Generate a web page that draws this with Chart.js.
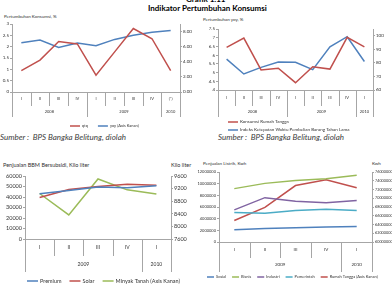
<!DOCTYPE html>
<html>
<head>
<meta charset="utf-8">
<script src="https://cdn.jsdelivr.net/npm/chart.js@4.4.1/dist/chart.umd.min.js"></script>
<style>
  body { margin: 0; width: 392px; height: 291px; background: #fff; position: relative; overflow: hidden; font-family: Lato, sans-serif; }
  canvas { position: absolute; }
  .t { position: absolute; white-space: nowrap; color: #333; line-height: 1; }
</style>
</head>
<body>
<div class="t" style="left:186px;top:-5px;font-size:8px;font-weight:bold;color:#000">Grafik 1.11</div>
<div class="t" style="left:148px;top:4px;font-size:8px;font-weight:bold;color:#000">Indikator Pertumbuhan Konsumsi</div>
<div class="t" style="left:4px;top:15px;font-size:4.5px">Pertumbuhan Konsumsi, %</div>
<div class="t" style="left:203px;top:18px;font-size:4.5px">Pertumbuhan yoy, %</div>
<div class="t" style="left:0px;top:133px;font-size:8px;font-style:italic;color:#404040">Sumber :&nbsp; BPS Bangka Belitung, diolah</div>
<div class="t" style="left:218px;top:133px;font-size:8px;font-style:italic;color:#404040">Sumber :&nbsp; BPS Bangka Belitung, diolah</div>
<div class="t" style="left:3px;top:163px;font-size:5.5px">Penjualan BBM Bersubsidi, Kilo liter</div>
<div class="t" style="left:171px;top:163px;font-size:5.5px">Kilo liter</div>
<div class="t" style="left:203px;top:162px;font-size:4.5px">Penjualan Listrik, Kwh</div>
<div class="t" style="left:372px;top:162px;font-size:4.5px">Kwh</div>

<canvas id="konsumsi" width="196" height="130" style="left:0;top:14px"></canvas>
<canvas id="yoy" width="196" height="130" style="left:196px;top:14px"></canvas>
<canvas id="bbm" width="195" height="131" style="left:0;top:160px"></canvas>
<canvas id="listrik" width="197" height="131" style="left:195px;top:160px"></canvas>

<script>
// kiri atas: pertumbuhan konsumsi
var kuartal1 = ['I', 'II', 'III', 'IV', 'I', 'II', 'III', 'IV', '(*)'];
var tahun1 = ['2008', '2009', '2010'];
var rentang1 = [4, 4, 1];
var qtq = [0.94, 1.41, 2.23, 2.12, 0.74, 1.77, 2.8, 2.35, 0.94];
var yoyKonsumsi = [6.52, 6.87, 5.9, 6.48, 6.13, 6.96, 7.5, 7.9, 8.13];

// kanan atas: konsumsi RT vs indeks ketepatan waktu
var kuartal2 = ['I', 'II', 'III', 'IV', 'I', 'II', 'III', 'IV', 'I'];
var konsumsiRT = [6.45, 6.98, 5.15, 5.25, 4.42, 5.33, 5.2, 7.02, 6.47];
var indeksKetepatan = [82.8, 71.8, 76.7, 80.6, 80.4, 75, 91.8, 99.3, 81];

// kiri bawah: penjualan BBM
var kuartal3 = ['I', 'II', 'III', 'IV', 'I'];
var tahun3 = ['2009', '2010'];
var rentang3 = [4, 1];
var premium = [43000, 46200, 49600, 48800, 50700];
var solar = [39600, 47100, 50000, 52200, 51200];
var minyakTanah = [9045, 8365, 9505, 9160, 9025];

// kanan bawah: penjualan listrik
var sosial = [2100000, 2300000, 2450000, 2560000, 2650000];
var bisnis = [9150000, 10050000, 10550000, 10850000, 11450000];
var industri = [5500000, 7600000, 7000000, 6750000, 7100000];
var pemerintah = [5050000, 4950000, 5400000, 5600000, 5400000];
var rumahTangga = [64900000, 67900000, 72900000, 74200000, 72400000];

var BIRU = '#4F81BD', MERAH = '#C0504D', HIJAU = '#9BBB59', UNGU = '#8064A2', TOSKA = '#4BACC6';
var ABU = '#a6a6a6', TEKS = '#333';

Chart.defaults.font.family = 'Lato, sans-serif';
Chart.defaults.color = TEKS;

// sumbu kategori dua tingkat ala Excel (kuartal + tahun)
var sumbuBertingkat = {
    id: 'sumbuBertingkat',
    afterDraw: function (chart, args, o) {
        var sx = chart.scales.x, a = chart.chartArea, ctx = chart.ctx;
        var labels = chart.data.labels, n = labels.length;
        var w = sx.getPixelForValue(1) - sx.getPixelForValue(0);
        var y0 = Math.round(a.bottom), y1 = y0 + o.baris1, y2 = y1 + o.baris2;
        var batas = [0], s = 0;
        o.rentang.forEach(function (r) { s += r; batas.push(s); });
        ctx.save();
        ctx.strokeStyle = ABU;
        ctx.lineWidth = 1;
        ctx.beginPath();
        ctx.moveTo(a.left, y0 + 0.5);
        ctx.lineTo(a.right, y0 + 0.5);
        for (var i = 0; i <= n; i++) {
            var px = Math.round(sx.getPixelForValue(i) - w / 2) + 0.5;
            ctx.moveTo(px, y0);
            ctx.lineTo(px, batas.indexOf(i) >= 0 ? y2 : y1);
        }
        ctx.stroke();
        ctx.fillStyle = TEKS;
        ctx.font = o.ukuran + 'px Lato, sans-serif';
        ctx.textAlign = 'center';
        ctx.textBaseline = 'middle';
        labels.forEach(function (l, i) {
            ctx.fillText(l, sx.getPixelForValue(i), (y0 + y1) / 2);
        });
        o.tahun.forEach(function (t, k) {
            var c = (batas[k] + batas[k + 1]) / 2 - 0.5;
            ctx.fillText(t, sx.getPixelForValue(c), (y1 + y2) / 2);
        });
        ctx.restore();
    }
};

// legenda garis pendek
var legendaGaris = {
    id: 'legendaGaris',
    afterDraw: function (chart, args, o) {
        var ctx = chart.ctx, x = o.x, y = o.y;
        ctx.save();
        ctx.font = o.ukuran + 'px Lato, sans-serif';
        ctx.textBaseline = 'middle';
        ctx.textAlign = 'left';
        chart.data.datasets.forEach(function (ds) {
            ctx.strokeStyle = ds.borderColor;
            ctx.lineWidth = 1.5;
            ctx.beginPath();
            ctx.moveTo(x, y);
            ctx.lineTo(x + o.panjang, y);
            ctx.stroke();
            ctx.fillStyle = TEKS;
            ctx.fillText(ds.label, x + o.panjang + 2, y);
            if (o.vertikal) y += o.jarak;
            else x += o.panjang + 2 + ctx.measureText(ds.label).width + o.jarak;
        });
        ctx.restore();
    }
};

function sumbuY(posisi, min, max, langkah, lebar, ukuran, format) {
    return {
        position: posisi, min: min, max: max,
        grid: { drawOnChartArea: false, color: ABU, tickLength: 2 },
        border: { color: ABU },
        ticks: { stepSize: langkah, font: { size: ukuran }, padding: 1, callback: format },
        afterFit: function (s) { s.width = lebar; }
    };
}

function garis(label, data, warna, sumbu) {
    return { label: label, data: data, borderColor: warna, backgroundColor: warna, yAxisID: sumbu,
             borderWidth: 1.5, pointRadius: 0, tension: 0 };
}

function buatGrafik(id, labels, datasets, skala, bertingkat, legenda, pad) {
    skala.x = {
        type: 'category', offset: true,
        grid: { display: false }, border: { display: false }, ticks: { display: false },
        afterFit: function (s) { s.height = bertingkat.baris1 + bertingkat.baris2; }
    };
    return new Chart(document.getElementById(id), {
        type: 'line',
        data: { labels: labels, datasets: datasets },
        options: {
            responsive: false, animation: false,
            layout: { padding: pad },
            scales: skala,
            plugins: {
                legend: { display: false }, tooltip: { enabled: false },
                sumbuBertingkat: bertingkat, legendaGaris: legenda
            }
        },
        plugins: [sumbuBertingkat, legendaGaris]
    });
}

buatGrafik('konsumsi', kuartal1,
    [garis('qtq', qtq, MERAH, 'y'), garis('yoy (Axis Kanan)', yoyKonsumsi, BIRU, 'y1')],
    { y: sumbuY('left', 0, 3, 0.5, 12, 4.5), y1: sumbuY('right', 0, 9, 1, 16, 4.5, function (v) { return v.toFixed(2); }) },
    { baris1: 14, baris2: 11, rentang: rentang1, tahun: tahun1, ukuran: 4 },
    { x: 70, y: 112, panjang: 10, jarak: 10, ukuran: 4 },
    { top: 10, bottom: 27, left: 0, right: 0 });

buatGrafik('yoy', kuartal2,
    [garis('Konsumsi Rumah Tangga', konsumsiRT, MERAH, 'y'),
     garis('Indeks Ketepatan Waktu Pembelian Barang Tahan Lama', indeksKetepatan, BIRU, 'y1')],
    { y: sumbuY('left', 4, 7.5, 0.5, 22, 4.5), y1: sumbuY('right', 60, 105, 5, 19, 4.5) },
    { baris1: 16, baris2: 11, rentang: rentang1, tahun: tahun1, ukuran: 4 },
    { x: 32, y: 108, panjang: 10, jarak: 8, ukuran: 4.5, vertikal: true },
    { top: 15, bottom: 27, left: 0, right: 0 });

buatGrafik('bbm', kuartal3,
    [garis('Premium', premium, BIRU, 'y'), garis('Solar', solar, MERAH, 'y'),
     garis('Minyak Tanah (Axis Kanan)', minyakTanah, HIJAU, 'y1')],
    { y: sumbuY('left', 0, 60000, 10000, 25, 5.5), y1: sumbuY('right', 7600, 9600, 200, 24, 5.5) },
    { baris1: 17, baris2: 16, rentang: rentang3, tahun: tahun3, ukuran: 5 },
    { x: 27, y: 121, panjang: 11, jarak: 8, ukuran: 5.5 },
    { top: 16, bottom: 19, left: 0, right: 0 });

buatGrafik('listrik', kuartal3,
    [garis('Sosial', sosial, BIRU, 'y'), garis('Bisnis', bisnis, HIJAU, 'y'),
     garis('Industri', industri, UNGU, 'y'), garis('Pemerintah', pemerintah, TOSKA, 'y'),
     garis('Rumah Tangga (Axis Kanan)', rumahTangga, MERAH, 'y1')],
    { y: sumbuY('left', 0, 12000000, 2000000, 24, 4), y1: sumbuY('right', 60000000, 76000000, 2000000, 20, 3.8) },
    { baris1: 16, baris2: 14, rentang: rentang3, tahun: tahun3, ukuran: 4.5 },
    { x: 12, y: 117, panjang: 7, jarak: 6, ukuran: 4 },
    { top: 12, bottom: 19, left: 0, right: 0 });
</script>
</body>
</html>
